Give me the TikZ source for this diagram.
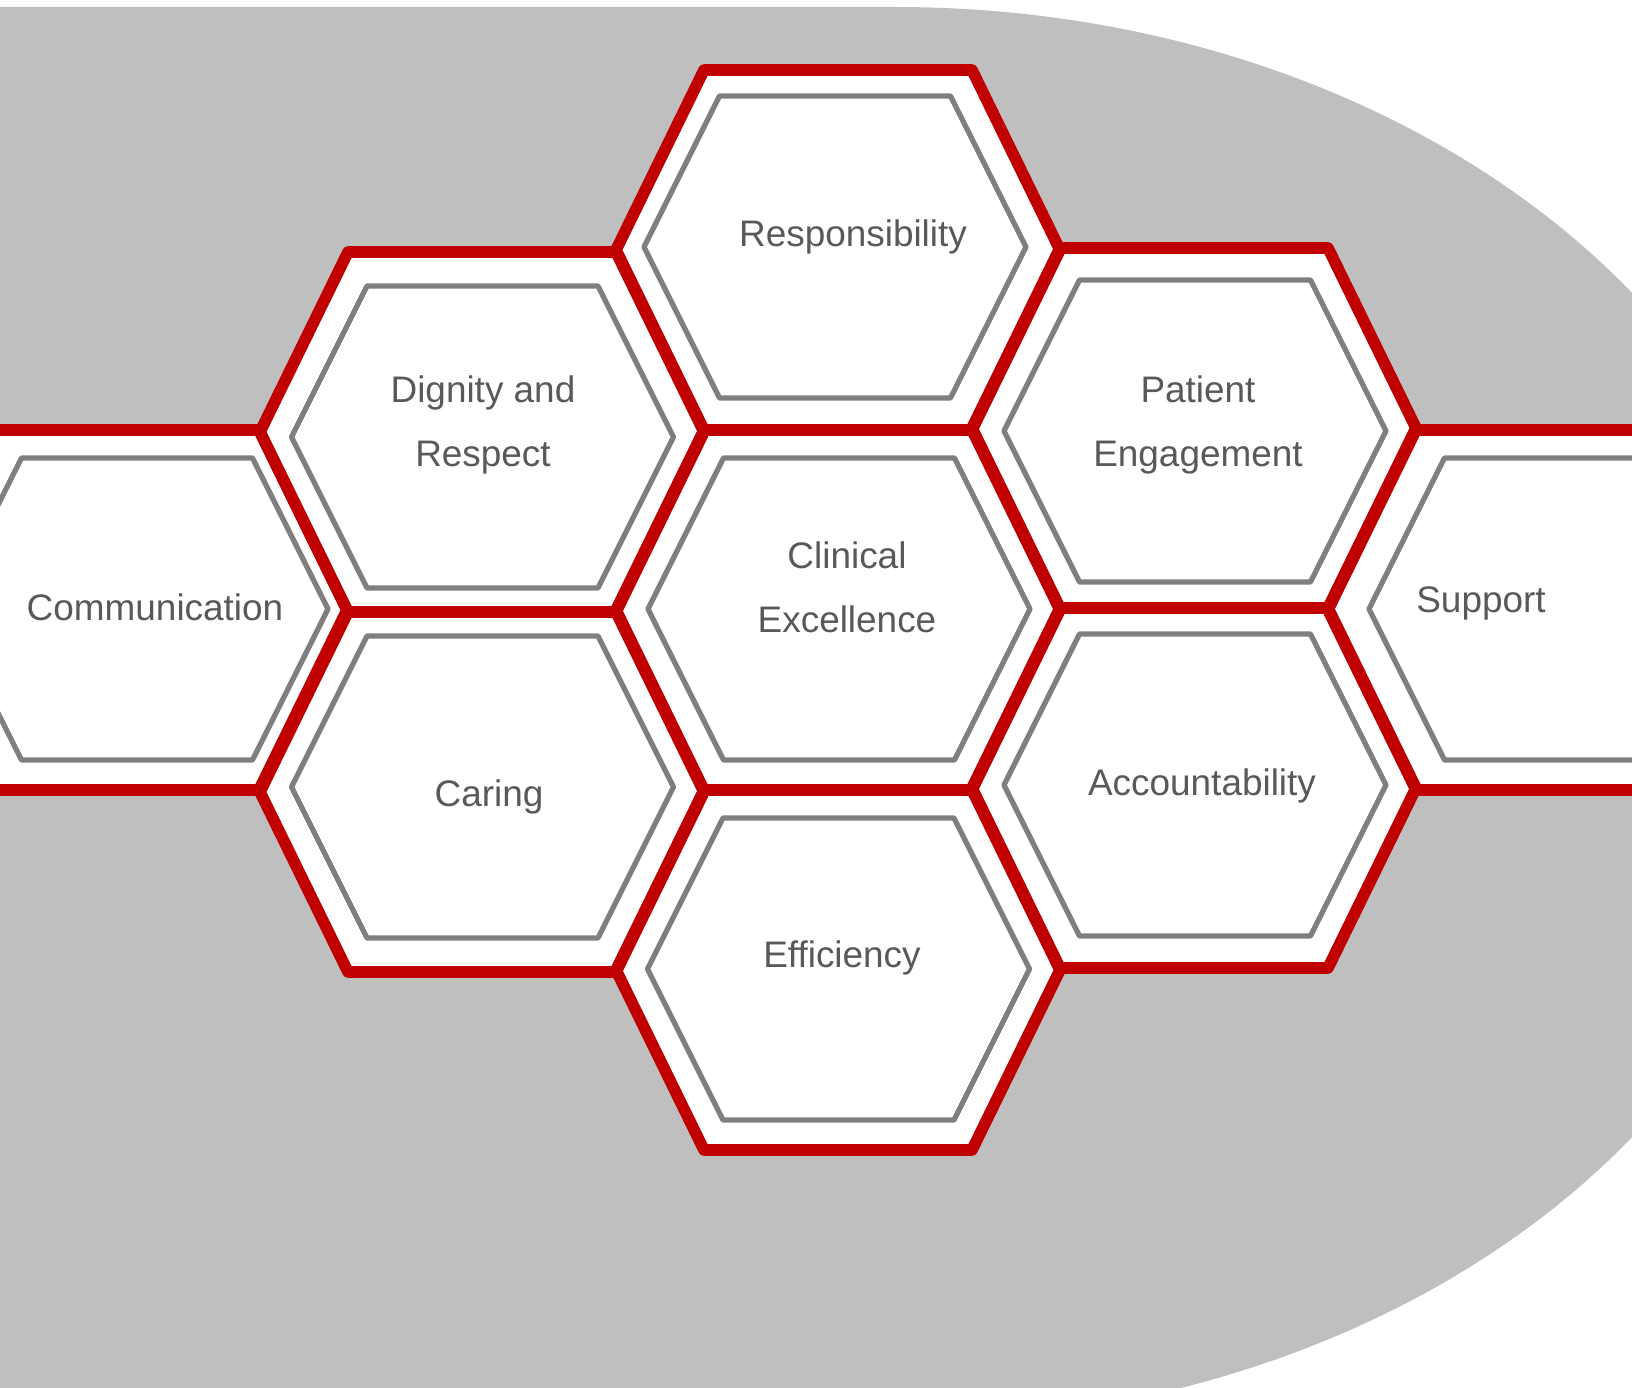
\documentclass[tikz,border=0pt]{standalone}
\usepackage{fontspec}
\setmainfont{Liberation Sans}
\usepackage{tikz}

\definecolor{hexred}{HTML}{C00000}
\definecolor{hexgray}{HTML}{7F7F7F}
\definecolor{backgray}{HTML}{BFBFBF}
\definecolor{textgray}{HTML}{595959}

\begin{document}
\begin{tikzpicture}[
    x=0.01cm, y=-0.01cm,
    outerhex/.style={
        draw=hexred,
        line width=3.3pt,
        line join=round
    },
    innerhex/.style={
        draw=hexgray,
        line width=1.5pt,
        line join=round
    },
    hexlabel/.style={
        text=textgray,
        align=center,
        anchor=base,
        inner sep=0pt,
        font=\fontsize{10.5}{18.2}\selectfont
    }
]

\useasboundingbox (0,0) rectangle (1632,1388);
\fill[white] (0,0) rectangle (1632,1388);
\clip (0,0) rectangle (1632,1388);

% --- Grey backdrop with its rounded right end
\fill[backgray] (0,7) -- (895,7)
    arc[start angle=-90, end angle=90, x radius=918, y radius=708]
    -- (0,1423) -- cycle;

% --- Outer hexagons: white faces first, red rims on top
\foreach \cx/\cy in {125/610, 482/432, 482/792, 838/250, 838/610,
                     838/970, 1194/428, 1194/788, 1550/610}
    \fill[white, shift={(\cx,\cy)}]
        (-222,0) -- (-134,-180) -- (134,-180) -- (222,0)
        -- (134,180) -- (-134,180) -- cycle;

\foreach \cx/\cy in {125/610, 482/432, 482/792, 838/250, 838/610,
                     838/970, 1194/428, 1194/788, 1550/610}
    \draw[outerhex, shift={(\cx,\cy)}]
        (-222,0) -- (-134,-180) -- (134,-180) -- (222,0)
        -- (134,180) -- (-134,180) -- cycle;

% --- Inner grey hexagons
\foreach \cx/\cy in {137/609, 482.5/437, 482.5/787, 835/247, 839/609,
                     838.5/969, 1195/431, 1195/785, 1560/609}
    \draw[innerhex, shift={(\cx,\cy)}]
        (-191,0) -- (-115.5,-151) -- (115.5,-151) -- (191,0)
        -- (115.5,151) -- (-115.5,151) -- cycle;

% --- Values (two-line labels sit on their last baseline)
\node[hexlabel] (comm)     at (155,620)  {Communication};
\node[hexlabel] (dignity)  at (483,467)  {Dignity and\\Respect};
\node[hexlabel] (caring)   at (489,807)  {Caring};
\node[hexlabel] (resp)     at (853,247)  {Responsibility};
\node[hexlabel] (clinical) at (847,633)  {Clinical\\Excellence};
\node[hexlabel] (effic)    at (842,967)  {Efficiency};
\node[hexlabel] (patient)  at (1198,467) {Patient\\Engagement};
\node[hexlabel] (account)  at (1202,795) {Accountability};
\node[hexlabel] (support)  at (1481,613) {Support};

\end{tikzpicture}
\end{document}
